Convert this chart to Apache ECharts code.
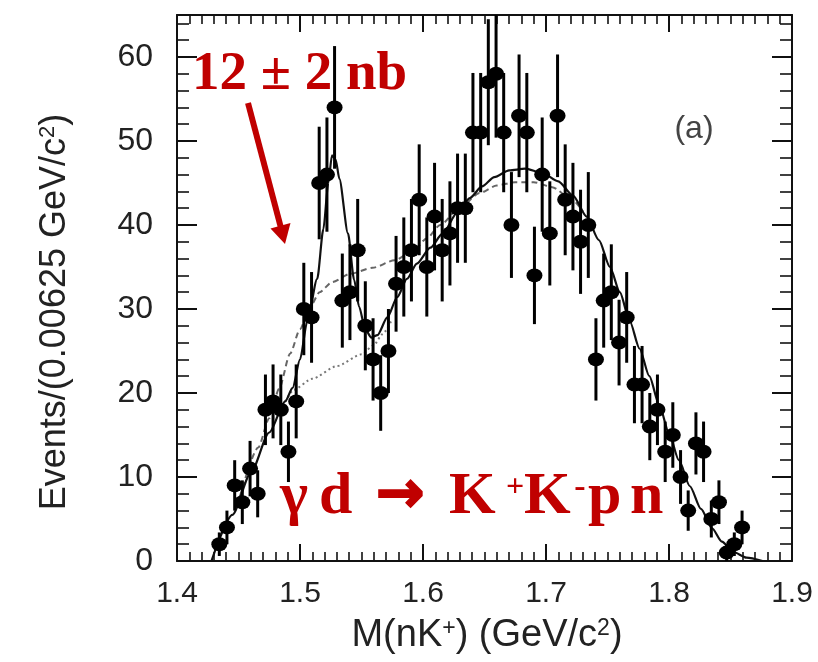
<!DOCTYPE html>
<html><head><meta charset="utf-8">
<script src="https://cdn.jsdelivr.net/npm/echarts@6/dist/echarts.min.js"></script>
<style>html,body{margin:0;padding:0;background:#fff}#c{width:818px;height:662px}</style>
</head><body><div id="c"></div>
<script>
// Bin centres M(nK+) in GeV/c^2 (bin width 0.00625)
const massBins = [1.4344,1.4406,1.4469,1.4531,1.4594,1.4656,1.4719,1.4781,1.4844,1.4906,
  1.4969,1.5031,1.5094,1.5156,1.5219,1.5281,1.5344,1.5406,1.5469,1.5531,
  1.5594,1.5656,1.5719,1.5781,1.5844,1.5906,1.5969,1.6031,1.6094,1.6156,
  1.6219,1.6281,1.6344,1.6406,1.6469,1.6531,1.6594,1.6656,1.6719,1.6781,
  1.6844,1.6906,1.6969,1.7031,1.7094,1.7156,1.7219,1.7281,1.7344,1.7406,
  1.7469,1.7531,1.7594,1.7656,1.7719,1.7781,1.7844,1.7906,1.7969,1.8031,
  1.8094,1.8156,1.8219,1.8281,1.8344,1.8406,1.8469,1.8531,1.8594];
// Events per bin
const counts = [2,4,9,7,11,8,18,19,18,13,
  19,30,29,45,46,54,31,32,37,28,
  24,20,25,33,35,37,43,35,41,37,
  39,42,42,51,51,57,58,51,40,53,
  51,34,46,39,53,43,41,38,40,24,
  31,32,26,29,21,21,16,18,13,15,
  10,6,14,13,5,7,1,2,4];
// Error bar half-lengths
const errors = [1.4,2.0,3.0,2.6,3.3,2.8,4.2,4.4,4.2,3.6,
  4.4,5.5,5.4,6.7,6.8,7.3,5.6,5.7,6.1,5.3,
  4.9,4.5,5.0,5.7,5.9,6.1,6.6,5.9,6.4,6.1,
  6.2,6.5,6.5,7.1,7.1,7.5,7.6,7.1,6.3,7.3,
  7.1,5.8,6.8,6.2,7.3,6.6,6.4,6.2,6.3,4.9,
  5.6,5.7,5.1,5.4,4.6,4.6,4.0,4.2,3.6,3.9,
  3.2,2.4,3.7,3.6,2.2,2.6,1.0,1.4,2.0];
// Fit curves
const fitTotal = [[1.428,0],[1.445,5.5],[1.46,10.5],[1.475,15.3],[1.488,19],[1.494,20.6],
  [1.500,24],[1.506,28.6],[1.514,33.6],[1.519,39.5],[1.523,45],[1.526,48.3],[1.529,47.8],[1.532,45.5],
  [1.539,39],[1.544,33.5],[1.548,30.3],[1.553,27.6],[1.558,26.6],[1.563,26.9],[1.571,29],[1.579,31.4],
  [1.587,33.6],[1.595,35.4],[1.606,37.3],[1.616,39],[1.628,41.5],[1.638,43.2],[1.648,44.6],[1.658,45.7],
  [1.67,46.5],[1.683,46.7],[1.697,46.2],[1.71,45.2],[1.722,43.5],[1.733,41],[1.743,38.2],[1.752,35],
  [1.76,32],[1.768,28.6],[1.776,25.3],[1.784,22],[1.792,18.6],[1.800,15.2],[1.808,12],[1.817,8.9],
  [1.826,6.2],[1.835,3.9],[1.843,2.3],[1.852,1.1],[1.863,0.4],[1.876,0]];
const fitNoPeak = [[1.451,7.6],[1.466,13.5],[1.475,17],[1.483,20.5],[1.492,24.7],[1.500,27.6],[1.508,30.2],
  [1.516,32],[1.526,33.2],[1.541,34.2],[1.559,34.9],[1.577,35.8],[1.592,36.9],[1.603,38.4],[1.614,40],
  [1.630,42.1],[1.646,43.8],[1.66,44.7],[1.675,45.1],[1.69,45.1],[1.705,44.5],[1.72,43.2],[1.73,41.6]];
const fitBackground = [[1.488,19],[1.495,20.4],[1.51,21.7],[1.53,23.2],[1.55,24.6],[1.56,25.7],[1.567,27],[1.575,28.8]];
const yTickLabels = [0,10,20,30,40,50,60];
const xTickLabels = ['1.4','1.5','1.6','1.7','1.8','1.9'];

const chart = echarts.init(document.getElementById('c'), null, {renderer:'canvas'});
const RED = '#c00000';
const serif = "'Liberation Serif','Times New Roman',serif";
const sans = "'Liberation Sans',Arial,Helvetica,sans-serif";

const xBase = {type:'value', min:1.4, max:1.9, interval:0.1, splitLine:{show:false},
  axisLine:{show:true, onZero:false, lineStyle:{color:'#111', width:2}},
  axisTick:{show:true, inside:true, length:17, lineStyle:{color:'#111', width:2}},
  minorTick:{show:true, splitNumber:10, length:9, lineStyle:{color:'#111', width:1.6}}};
const yMajor = {type:'value', min:0, max:65, interval:10, splitLine:{show:false},
  axisLine:{show:true, onZero:false, lineStyle:{color:'#111', width:2}},
  axisTick:{show:true, inside:true, length:20, lineStyle:{color:'#111', width:2}}};
const yMinor = {type:'value', min:0, max:65, interval:2, splitLine:{show:false},
  axisLine:{show:false}, axisLabel:{show:false},
  axisTick:{show:true, inside:true, length:12, lineStyle:{color:'#111', width:1.6}}};

const errData = massBins.map((x,i)=>[x, counts[i]-errors[i], counts[i]+errors[i]]);
const ptData = massBins.map((x,i)=>[x, counts[i]]);

const option = {
  animation:false,
  backgroundColor:'#fff',
  grid:{left:177, top:15, right:26, bottom:101, containLabel:false},
  xAxis:[
    Object.assign({}, xBase, {position:'bottom',
      axisLabel:{show:true, fontSize:30, color:'#222', fontFamily:sans, margin:18,
        formatter:v=>{const s=v.toFixed(1); return xTickLabels.includes(s)?s:'';}}}),
    Object.assign({}, xBase, {position:'top', axisLabel:{show:false}})
  ],
  yAxis:[
    Object.assign({}, yMajor, {position:'left',
      axisLabel:{show:true, fontSize:32, color:'#222', fontFamily:sans, margin:24,
        formatter:v=>yTickLabels.includes(v)?String(v):''}}),
    Object.assign({}, yMinor, {position:'left'}),
    Object.assign({}, yMajor, {position:'right', axisLabel:{show:false}}),
    Object.assign({}, yMinor, {position:'right'})
  ],
  series:[
    {type:'line', data:fitBackground, showSymbol:false, smooth:0.25, smoothMonotone:'x',
      lineStyle:{color:'#777', width:2, type:[2,3]}, z:2, silent:true},
    {type:'line', data:fitNoPeak, showSymbol:false, smooth:0.25, smoothMonotone:'x',
      lineStyle:{color:'#666', width:2, type:[6,4]}, z:2, silent:true},
    {type:'line', data:fitTotal, showSymbol:false, smooth:0.25, smoothMonotone:'x',
      lineStyle:{color:'#111', width:2.2}, z:3, silent:true},
    {type:'custom', data:errData, clip:true, z:4, silent:true,
      renderItem:function(params, api){
        const x=api.value(0), lo=api.value(1), hi=api.value(2);
        const p1=api.coord([x,lo]), p2=api.coord([x,hi]);
        return {type:'line', shape:{x1:p1[0],y1:p1[1],x2:p2[0],y2:p2[1]},
          style:{stroke:'#000', lineWidth:3}};
      }},
    {type:'scatter', data:ptData, symbol:'circle', symbolSize:[16,14],
      itemStyle:{color:'#000', opacity:1}, z:5, silent:true}
  ],
  graphic:[
    {type:'text', x:55, y:312, rotation:Math.PI/2, z:10,
      style:{text:'Events/(0.00625 GeV/c{s|2})', fontSize:36, fontFamily:sans, fill:'#222',
        align:'center', verticalAlign:'middle',
        rich:{s:{fontSize:22, verticalAlign:'top', fontFamily:sans, fill:'#222'}}}},
    {type:'text', x:487, y:636, z:10,
      style:{text:'M(nK{s|+}) (GeV/c{s|2})', fontSize:38, fontFamily:sans, fill:'#222',
        align:'center', verticalAlign:'middle',
        rich:{s:{fontSize:23, verticalAlign:'top', fontFamily:sans, fill:'#222'}}}},
    {type:'text', x:694, y:129, z:10,
      style:{text:'(a)', fontSize:32, fontFamily:sans, fill:'#444', align:'center', verticalAlign:'middle'}},
    // red annotation
    {type:'text', x:192, y:75, z:10,
      style:{text:'12 ± 2 nb', fontSize:55, fontWeight:'bold', fontFamily:serif, fill:RED,
        align:'left', verticalAlign:'middle'}},
    {type:'line', z:10, shape:{x1:248, y1:103, x2:281, y2:228},
      style:{stroke:RED, lineWidth:6}},
    {type:'polygon', z:10, shape:{points:[[285,244],[290.5,223],[270.5,228.5]]},
      style:{fill:RED}},
    {type:'text', x:280, y:497, z:10,
      style:{text:'γ', fontSize:60, fontWeight:'bold', fontFamily:serif, fill:RED, align:'left', verticalAlign:'middle'}},
    {type:'text', x:319, y:497, z:10,
      style:{text:'d', fontSize:60, fontWeight:'bold', fontFamily:serif, fill:RED, align:'left', verticalAlign:'middle'}},
    {type:'text', x:400, y:497, z:10,
      style:{text:'→', fontSize:58, fontWeight:'bold', fontFamily:"'DejaVu Sans',sans-serif", fill:RED,
        stroke:RED, lineWidth:2, align:'center', verticalAlign:'middle'}},
    {type:'text', x:449, y:497, z:10,
      style:{text:'K', fontSize:60, fontWeight:'bold', fontFamily:serif, fill:RED, align:'left', verticalAlign:'middle'}},
    {type:'text', x:515, y:488, z:10,
      style:{text:'+', fontSize:32, fontWeight:'bold', fontFamily:serif, fill:RED, align:'center', verticalAlign:'middle'}},
    {type:'text', x:524, y:497, z:10,
      style:{text:'K', fontSize:60, fontWeight:'bold', fontFamily:serif, fill:RED, align:'left', verticalAlign:'middle'}},
    {type:'text', x:580, y:488, z:10,
      style:{text:'-', fontSize:34, fontWeight:'bold', fontFamily:serif, fill:RED, align:'center', verticalAlign:'middle'}},
    {type:'text', x:588, y:497, z:10,
      style:{text:'p', fontSize:60, fontWeight:'bold', fontFamily:serif, fill:RED, align:'left', verticalAlign:'middle'}},
    {type:'text', x:630, y:497, z:10,
      style:{text:'n', fontSize:60, fontWeight:'bold', fontFamily:serif, fill:RED, align:'left', verticalAlign:'middle'}}
  ]
};
chart.setOption(option);
</script>
</body></html>
